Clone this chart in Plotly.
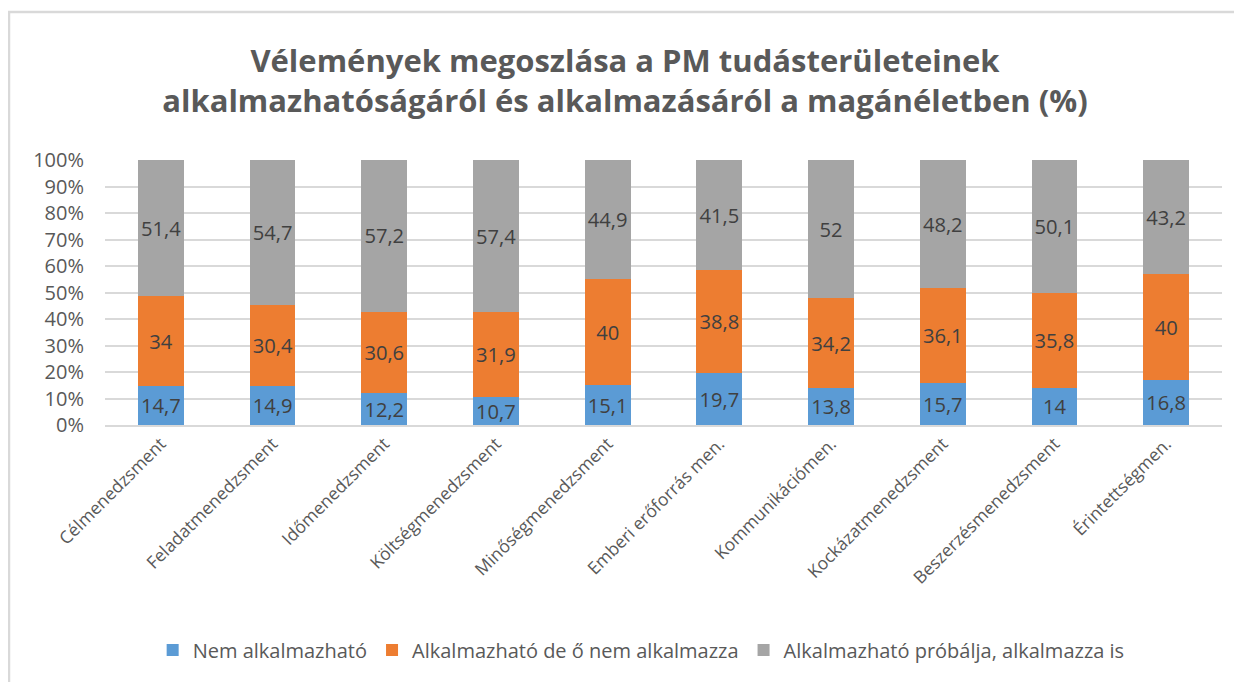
import plotly.graph_objects as go

categories = ["Célmenedzsment", "Feladatmenedzsment", "Időmenedzsment", "Költségmenedzsment",
              "Minőségmenedzsment", "Emberi erőforrás men.", "Kommunikációmen.",
              "Kockázatmenedzsment", "Beszerzésmenedzsment", "Érintettségmen."]
nem_alkalmazhato = [14.7, 14.9, 12.2, 10.7, 15.1, 19.7, 13.8, 15.7, 14, 16.8]
nem_alkalmazza = [34, 30.4, 30.6, 31.9, 40, 38.8, 34.2, 36.1, 35.8, 40]
alkalmazza_is = [51.4, 54.7, 57.2, 57.4, 44.9, 41.5, 52, 48.2, 50.1, 43.2]
series_names = ["Nem alkalmazható", "Alkalmazható de ő nem alkalmazza", "Alkalmazható próbálja, alkalmazza is"]
colors = ["#5b9bd5", "#ed7d31", "#a5a5a5"]

def fmt(v):
    return f"{v:g}".replace(".", ",")

fig = go.Figure()
for name, vals, col in zip(series_names, [nem_alkalmazhato, nem_alkalmazza, alkalmazza_is], colors):
    fig.add_trace(go.Bar(
        x=categories, y=vals, name=name, marker=dict(color=col, line=dict(width=0)),
        text=[fmt(v) for v in vals], textposition="inside", insidetextanchor="middle",
        textangle=0, textfont=dict(size=21, color="#404040", family="Open Sans"),
        hoverinfo="skip",
    ))

W, H = 1234, 674
L, R, T, B = 97, 20, 152, 257
fig.update_layout(
    barmode="stack", barnorm="percent", bargap=0.59,
    width=W, height=H,
    paper_bgcolor="white", plot_bgcolor="white",
    margin=dict(l=L, r=R, t=T, b=B),
    font=dict(family="Open Sans", color="#595959"),
    title=dict(text="<b>Vélemények megoszlása a PM tudásterületeinek<br>alkalmazhatóságáról és alkalmazásáról a magánéletben (%)</b>",
               x=0.5, xanchor="center", y=0.905, yanchor="middle", yref="container",
               font=dict(size=31, color="#595959", family="Open Sans")),
    uniformtext=dict(minsize=20, mode="show"),
    legend=dict(orientation="h", x=0.48, xanchor="center", y=-0.849, yanchor="middle",
                font=dict(size=20, color="#595959"), traceorder="normal", itemwidth=30),
    showlegend=True,
)
fig.update_yaxes(range=[0, 100], dtick=10, ticksuffix="%", showgrid=True, gridcolor="#d9d9d9",
                 gridwidth=1.5, zeroline=False, tickfont=dict(size=20, color="#595959"), ticks="",
                 ticklabelstandoff=20)
fig.update_xaxes(tickangle=-45, tickfont=dict(size=17.5, color="#595959"), showline=True,
                 linecolor="#d9d9d9", linewidth=1.5, ticks="")
pw = W - L - R
ph = H - T - B
fig.add_shape(type="rect", xref="paper", yref="paper",
              x0=(1 - L) / pw, x1=1.3, y0=-1.5, y1=(H - B - 4) / ph,
              line=dict(color="#d9d9d9", width=2.5), fillcolor="rgba(0,0,0,0)")
fig.write_html("out.html")
